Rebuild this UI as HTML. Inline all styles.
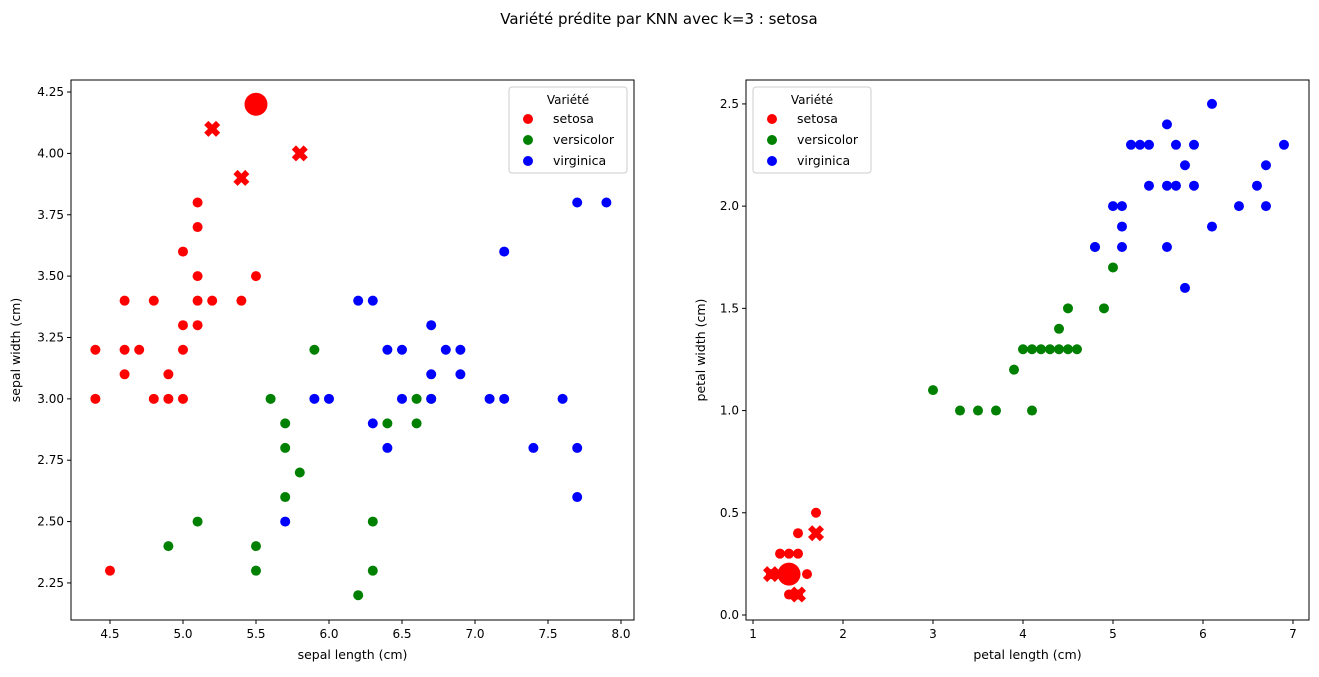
<!DOCTYPE html>
<html><head><meta charset="utf-8"><style>
body{margin:0;background:#fff;font-family:"Liberation Sans","DejaVu Sans",sans-serif}
svg text{font-family:"DejaVu Sans","Liberation Sans",sans-serif}
</style></head><body>
<svg id="c" width="1319" height="672">
<text x="659" y="24" text-anchor="middle" font-size="15">Variété prédite par KNN avec k=3 : setosa</text>
</svg>
<script>
const setosaSL=[4.4,4.4,4.6,4.6,4.6,4.7,4.8,4.8,4.9,4.9,5.0,5.0,5.0,5.0,5.1,5.1,5.1,5.1,5.1,5.2,5.4,5.5,4.5];
const setosaSW=[3.2,3.0,3.4,3.2,3.1,3.2,3.4,3.0,3.1,3.0,3.6,3.3,3.2,3.0,3.8,3.7,3.5,3.4,3.3,3.4,3.4,3.5,2.3];
const versiSL=[5.9,5.6,5.7,5.7,5.8,5.7,5.1,4.9,5.5,5.5,6.3,6.3,6.2,6.4,6.6,6.6,6.7];
const versiSW=[3.2,3.0,2.9,2.8,2.7,2.6,2.5,2.4,2.4,2.3,2.5,2.3,2.2,2.9,2.9,3.0,3.0];
const virgSL=[6.2,6.3,6.4,6.5,6.7,6.8,6.9,6.7,6.9,5.9,6.0,6.5,6.7,7.1,7.2,7.6,6.3,6.4,7.4,7.7,7.7,5.7,7.2,7.7,7.9];
const virgSW=[3.4,3.4,3.2,3.2,3.3,3.2,3.2,3.1,3.1,3.0,3.0,3.0,3.0,3.0,3.0,3.0,2.9,2.8,2.8,2.8,2.6,2.5,3.6,3.8,3.8];
const neighSL=[5.2,5.4,5.8], neighSW=[4.1,3.9,4.0];
const querySL=[5.5], querySW=[4.2];
const setosaPL=[1.3,1.4,1.5,1.5,1.7,1.6,1.4,1.5,1.2,1.3];
const setosaPW=[0.3,0.3,0.3,0.4,0.5,0.2,0.1,0.1,0.2,0.2];
const versiPL=[3.0,3.3,3.5,3.7,4.1,3.9,4.0,4.1,4.2,4.3,4.4,4.5,4.6,4.4,4.5,4.9,5.0,4.8];
const versiPW=[1.1,1.0,1.0,1.0,1.0,1.2,1.3,1.3,1.3,1.3,1.3,1.3,1.3,1.4,1.5,1.5,1.7,1.8];
const virgPL=[4.8,5.1,5.6,5.8,5.1,6.1,5.0,5.1,6.4,6.7,5.4,5.6,5.7,5.9,6.6,5.8,6.7,5.2,5.3,5.4,5.7,5.9,6.9,5.6,6.1];
const virgPW=[1.8,1.8,1.8,1.6,1.9,1.9,2.0,2.0,2.0,2.0,2.1,2.1,2.1,2.1,2.1,2.2,2.2,2.3,2.3,2.3,2.3,2.3,2.3,2.4,2.5];
const neighPL=[1.2,1.5,1.7], neighPW=[0.2,0.1,0.4];
const queryPL=[1.4], queryPW=[0.2];
const leftXTicks=[4.5,5.0,5.5,6.0,6.5,7.0,7.5,8.0], leftYTicks=[2.25,2.5,2.75,3.0,3.25,3.5,3.75,4.0,4.25];
const rightXTicks=[1,2,3,4,5,6,7], rightYTicks=[0.0,0.5,1.0,1.5,2.0,2.5];

const NS="http://www.w3.org/2000/svg", svg=document.getElementById('c');
function el(t,a,p){const e=document.createElementNS(NS,t);for(const k in a)e.setAttribute(k,a[k]);(p||svg).appendChild(e);return e;}
function panel(o){
  const g=el('g',{});
  
  
  const sx=v=>o.x0+(v-o.xmin)/(o.xmax-o.xmin)*(o.x1-o.x0);
  const sy=v=>o.y1-(v-o.ymin)/(o.ymax-o.ymin)*(o.y1-o.y0);
  o.series.forEach(s=>{
    s.xs.forEach((xv,i)=>{
      const cx=sx(xv), cy=sy(s.ys[i]);
      let m;
      if(s.kind==='x'){const r=8,w=4.2;
        m=el('path',{d:`M${cx-r} ${cy-r+w}L${cx-w} ${cy}L${cx-r} ${cy+r-w}L${cx-r+w} ${cy+r}L${cx} ${cy+w}L${cx+r-w} ${cy+r}L${cx+r} ${cy+r-w}L${cx+w} ${cy}L${cx+r} ${cy-r+w}L${cx+r-w} ${cy-r}L${cx} ${cy-w}L${cx-r+w} ${cy-r}Z`,fill:s.color},g);
      } else m=el('circle',{cx,cy,r:s.r,fill:s.color},g);
      
      
    });
  });
  const fr=el('rect',{x:o.x0,y:o.y0,width:o.x1-o.x0,height:o.y1-o.y0,fill:'none',stroke:'#000','stroke-width':1},g);
  
  
  o.xt.forEach(t=>{const x=sx(t);el('line',{x1:x,x2:x,y1:o.y1,y2:o.y1+4,stroke:'#000'},g);
    const tx=el('text',{x,y:o.y1+18,'text-anchor':'middle','font-size':12},g);tx.textContent=o.xf(t);
    
    });
  o.yt.forEach(t=>{const y=sy(t);el('line',{x1:o.x0-4,x2:o.x0,y1:y,y2:y,stroke:'#000'},g);
    const tx=el('text',{x:o.x0-7,y:y+4,'text-anchor':'end','font-size':12},g);tx.textContent=o.yf(t);
    
    });
  const xl=el('text',{x:(o.x0+o.x1)/2,y:o.y1+39,'text-anchor':'middle','font-size':12.5},g);xl.textContent=o.xlabel;
  
  
  const yl=el('text',{x:0,y:0,'text-anchor':'middle','font-size':12.5,transform:`translate(${o.ylx},${(o.y0+o.y1)/2}) rotate(-90)`},g);yl.textContent=o.ylabel;
  
  
  const lg=el('g',{},g);
  
  
  el('rect',{x:o.lx,y:87,width:118,height:86,rx:3,fill:'#fff',stroke:'#ccc'},lg);
  const lt=el('text',{x:o.lx+59,y:104,'text-anchor':'middle','font-size':12},lg);lt.textContent='Variété';
  [['setosa','red'],['versicolor','green'],['virginica','blue']].forEach((e,i)=>{
    const y=119+i*21;
    const le=el('g',{},lg);
    
    
    el('circle',{cx:o.lx+19,cy:y,r:5,fill:e[1]},le);
    const t=el('text',{x:o.lx+44,y:y+4,'font-size':12.5},le);t.textContent=e[0];
  });
}
const f2=v=>v.toFixed(2), f1=v=>v.toFixed(1), f0=v=>String(v);
panel({name:'sepal-chart',x0:71,x1:634,y0:80,y1:620,xmin:4.233,xmax:8.089,ymin:2.099,ymax:4.299,
  xt:leftXTicks,yt:leftYTicks,xf:f1,yf:f2,xlabel:'sepal length (cm)',ylabel:'sepal width (cm)',ylx:20,lx:509,
  series:[{xs:setosaSL,ys:setosaSW,color:'red',r:5,label:'setosa'},{xs:versiSL,ys:versiSW,color:'green',r:5,label:'versicolor'},
  {xs:virgSL,ys:virgSW,color:'blue',r:5,label:'virginica'},{xs:neighSL,ys:neighSW,color:'red',kind:'x',label:'neighbor'},
  {xs:querySL,ys:querySW,color:'red',r:11.5,label:'query'}]});
panel({name:'petal-chart',x0:746,x1:1309,y0:80,y1:620,xmin:0.922,xmax:7.178,ymin:-0.0245,ymax:2.617,
  xt:rightXTicks,yt:rightYTicks,xf:f0,yf:f1,xlabel:'petal length (cm)',ylabel:'petal width (cm)',ylx:705,lx:753,
  series:[{xs:setosaPL,ys:setosaPW,color:'red',r:5,label:'setosa'},{xs:versiPL,ys:versiPW,color:'green',r:5,label:'versicolor'},
  {xs:virgPL,ys:virgPW,color:'blue',r:5,label:'virginica'},{xs:neighPL,ys:neighPW,color:'red',kind:'x',label:'neighbor'},
  {xs:queryPL,ys:queryPW,color:'red',r:11.5,label:'query'}]});
</script>
</body></html>
